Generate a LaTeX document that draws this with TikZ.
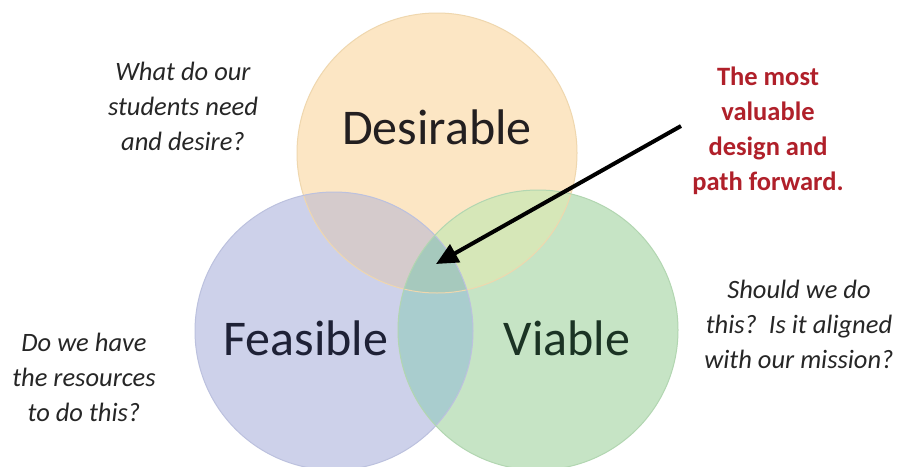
\documentclass[tikz,border=0pt]{standalone}
\usepackage{fontspec}
\setmainfont{Carlito}
\usetikzlibrary{arrows.meta}
\definecolor{desfill}{HTML}{FCE6C4}
\definecolor{feafill}{HTML}{CDD1EA}
\definecolor{viafill}{HTML}{C6E4C5}
\definecolor{dfcol}{HTML}{D5CBCC}
\definecolor{dvcol}{HTML}{D6E7B8}
\definecolor{fvcol}{HTML}{A9CDCE}
\definecolor{dfvcol}{HTML}{A6C9BD}
\definecolor{desline}{HTML}{EFD7AE}
\definecolor{fealine}{HTML}{BCC1DE}
\definecolor{vialine}{HTML}{B2D6B1}
\definecolor{redtext}{HTML}{B0202A}
\definecolor{greytext}{HTML}{262626}
\definecolor{destext}{HTML}{231F20}
\definecolor{featext}{HTML}{1E2136}
\definecolor{viatext}{HTML}{1B3324}
\tikzset{
  biglabel/.style={font=\fontsize{50}{54}\selectfont, inner sep=0pt},
  question/.style={font=\fontsize{26.5}{35}\selectfont\itshape, text=greytext, align=center, inner sep=0pt},
  callout/.style={font=\fontsize{26.5}{35}\selectfont\bfseries, text=redtext, align=center, inner sep=0pt},
  pointer/.style={line width=4pt, -{Triangle[length=22pt,width=20pt]}}
}
\begin{document}
\begin{tikzpicture}[x=1pt,y=-1pt]
\useasboundingbox (0,0) rectangle (897,466);
\fill[white] (0,0) rectangle (897,466);
\coordinate (cD) at (437,153);
\coordinate (cF) at (334,331);
\coordinate (cV) at (538,330);
% base circles
\fill[desfill] (cD) circle (140);
\fill[feafill] (cF) circle (139);
\fill[viafill] (cV) circle (140);
% pairwise overlaps
\begin{scope}
  \clip (cD) circle (140);
  \fill[dfcol] (cF) circle (139);
\end{scope}
\begin{scope}
  \clip (cD) circle (140);
  \fill[dvcol] (cV) circle (140);
\end{scope}
\begin{scope}
  \clip (cF) circle (139);
  \fill[fvcol] (cV) circle (140);
\end{scope}
\begin{scope}
  \clip (cD) circle (140);
  \clip (cF) circle (139);
  \fill[dfvcol] (cV) circle (140);
\end{scope}
% outlines
\draw[desline, line width=1pt] (cD) circle (140);
\draw[fealine, line width=1pt] (cF) circle (139);
\draw[vialine, line width=1pt] (cV) circle (140);
% labels
\node[biglabel, text=destext] (des) at (437,127) {Desirable};
\node[biglabel, text=featext] (fea) at (306,338) {Feasible};
\node[biglabel, text=viatext] (via) at (567,338) {Viable};
\node[question] (qdes) at (183,106) {What do our\\students need\\and desire?};
\node[question] (qfea) at (84,377) {Do we have\\the resources\\to do this?};
\node[question] (qvia) at (799,324) {Should we do\\this?\ \ Is it aligned\\with our mission?};
\node[callout] (note) at (768,131) {The most\\valuable\\design and\\path forward.};
% arrow
\coordinate (arrstart) at (681,126);
\coordinate (arrtip) at (436,264);
\draw[pointer] (arrstart) -- (arrtip);
\end{tikzpicture}
\end{document}
